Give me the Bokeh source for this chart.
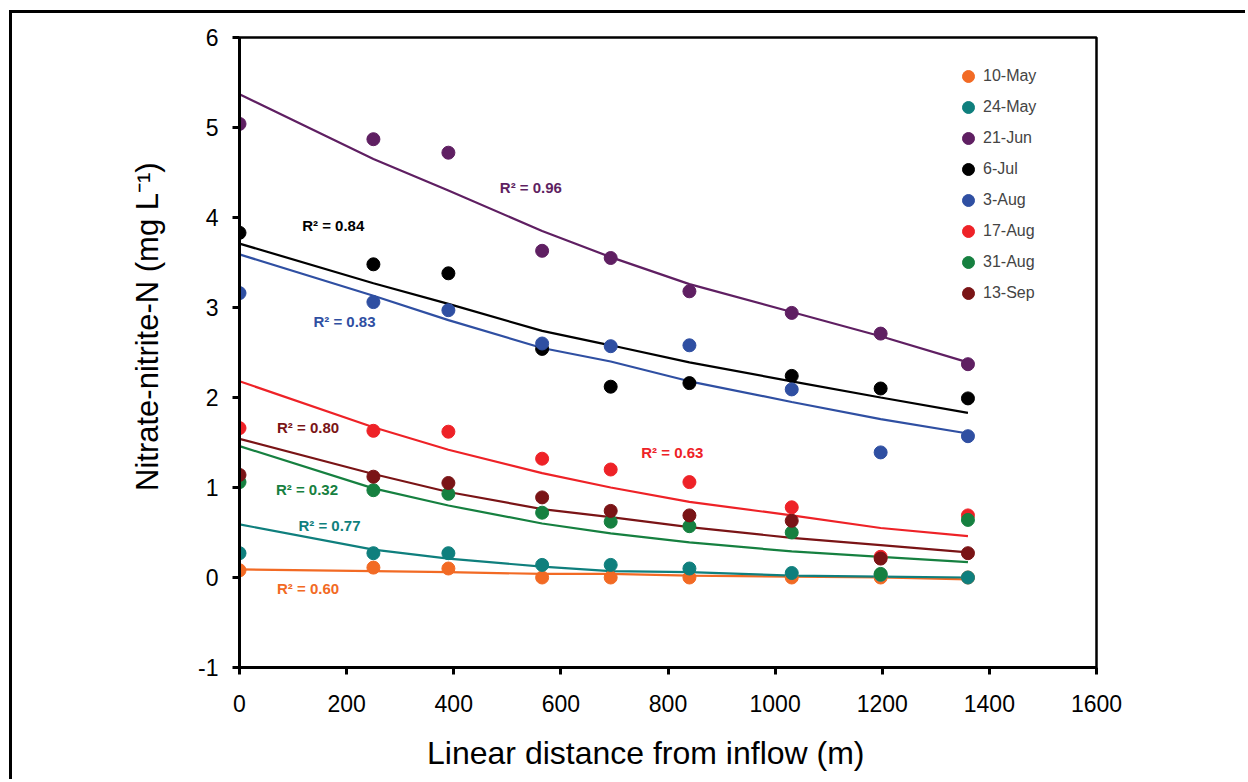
from bokeh.plotting import figure
from bokeh.models import Legend, LegendItem, Label, FixedTicker, Range1d
from bokeh.embed import file_html
from bokeh.resources import INLINE

# ---------------- data ----------------
distance = [0, 250, 390, 565, 693, 840, 1031, 1197, 1360]

series_names = ["10-May", "24-May", "21-Jun", "6-Jul", "3-Aug", "17-Aug", "31-Aug", "13-Sep"]

may10 = [0.08, 0.11, 0.10, 0.00, 0.00, 0.00, 0.00, 0.00, 0.00]
may24 = [0.27, 0.27, 0.27, 0.14, 0.14, 0.10, 0.05, 0.03, 0.00]
jun21 = [5.04, 4.87, 4.72, 3.63, 3.55, 3.18, 2.94, 2.71, 2.37]
jul6 = [3.83, 3.48, 3.38, 2.54, 2.12, 2.16, 2.24, 2.10, 1.99]
aug3 = [3.16, 3.06, 2.97, 2.60, 2.57, 2.58, 2.09, 1.39, 1.57]
aug17 = [1.66, 1.63, 1.62, 1.32, 1.20, 1.06, 0.78, 0.23, 0.69]
aug31 = [1.06, 0.97, 0.93, 0.72, 0.62, 0.57, 0.50, 0.04, 0.64]
sep13 = [1.14, 1.12, 1.05, 0.89, 0.74, 0.69, 0.63, 0.21, 0.27]

# trend lines at the same distances
trend_may10 = [0.09, 0.07, 0.06, 0.04, 0.04, 0.02, 0.01, 0.00, -0.02]
trend_may24 = [0.59, 0.31, 0.21, 0.12, 0.07, 0.06, 0.02, 0.01, 0.00]
trend_jun21 = [5.37, 4.65, 4.30, 3.85, 3.56, 3.26, 2.95, 2.68, 2.39]
trend_jul6 = [3.71, 3.27, 3.04, 2.74, 2.58, 2.39, 2.18, 2.00, 1.83]
trend_aug3 = [3.59, 3.13, 2.86, 2.55, 2.40, 2.18, 1.95, 1.76, 1.60]
trend_aug17 = [2.18, 1.67, 1.42, 1.16, 1.00, 0.84, 0.69, 0.55, 0.46]
trend_aug31 = [1.46, 0.99, 0.80, 0.60, 0.49, 0.39, 0.29, 0.23, 0.17]
trend_sep13 = [1.54, 1.15, 0.95, 0.76, 0.67, 0.56, 0.44, 0.36, 0.28]

r2_labels = ["R² = 0.60", "R² = 0.77", "R² = 0.96", "R² = 0.84",
             "R² = 0.83", "R² = 0.63", "R² = 0.32", "R² = 0.80"]

x_ticks = [0, 200, 400, 600, 800, 1000, 1200, 1400, 1600]
y_ticks = [-1, 0, 1, 2, 3, 4, 5, 6]

# ---------------- styling ----------------
colors = ["#F26A24", "#0F7F7D", "#5F1F62", "#000000", "#2F4FA2", "#EE2227", "#168040", "#7A1416"]
# label anchor positions (data units, left/middle)
r2_pos = [(70, -0.12), (110, 0.58), (486, 4.33), (117, 3.91),
          (138, 2.85), (750, 1.39), (68, 0.975), (70, 1.67)]

FONT = "Liberation Sans"
NB = "\u00a0"

W, H = 1236, 769
p = figure(width=W, height=H, output_backend="svg", toolbar_location=None,
           x_range=Range1d(0, 1600), y_range=Range1d(-1, 6),
           min_border_left=227, min_border_right=152, min_border_top=24, min_border_bottom=115)
p.styles = {"margin-left": "9px", "margin-top": "10px",
            "border-left": "3px solid #000", "border-top": "3px solid #000"}

p.grid.visible = False
p.outline_line_color = "black"
p.outline_line_width = 2.5
p.background_fill_color = "white"
p.border_fill_color = "white"

p.xaxis.ticker = FixedTicker(ticks=x_ticks)
p.yaxis.ticker = FixedTicker(ticks=y_ticks)
p.yaxis.major_label_overrides = {t: str(t) for t in y_ticks}
for ax in (p.xaxis, p.yaxis):
    ax.axis_line_width = 3
    ax.major_tick_line_width = 3
    ax.major_tick_out = 7
    ax.major_tick_in = 0
    ax.minor_tick_line_color = None
    ax.major_label_text_font = FONT
    ax.major_label_text_font_size = "23px"
    ax.major_label_text_color = "black"
    ax.axis_label_text_font = FONT
    ax.axis_label_text_font_style = "normal"
    ax.axis_label_text_color = "black"
p.xaxis.axis_label_text_font_size = "32px"
p.yaxis.axis_label_text_font_size = "31px"
p.xaxis.axis_label = "Linear distance from inflow (m)" + NB * 5
p.yaxis.axis_label = NB * 6 + "Nitrate-nitrite-N (mg L⁻¹)"
p.xaxis.major_label_standoff = 20
p.yaxis.major_label_standoff = 14
p.xaxis.axis_label_standoff = 20
p.yaxis.axis_label_standoff = 30

values = [may10, may24, jun21, jul6, aug3, aug17, aug31, sep13]
trends = [trend_may10, trend_may24, trend_jun21, trend_jul6, trend_aug3,
          trend_aug17, trend_aug31, trend_sep13]

items = []
for name, ys, tr, c in zip(series_names, values, trends, colors):
    p.line(distance, tr, line_color=c, line_width=2.2)
for name, ys, tr, c in zip(series_names, values, trends, colors):
    r = p.scatter(distance, ys, size=13, marker="circle", fill_color=c, line_color=c)
    items.append(LegendItem(label=name, renderers=[r]))

for txt, (lx, ly), c in zip(r2_labels, r2_pos, colors):
    p.add_layout(Label(x=lx, y=ly, text=txt, text_color=c, text_font=FONT,
                       text_font_size="15px", text_font_style="bold",
                       text_baseline="middle", text_align="left"))

legend = Legend(items=items, location=(714, 359))
legend.border_line_color = None
legend.background_fill_alpha = 0
legend.padding = 0
legend.margin = 0
legend.spacing = 1
legend.glyph_width = 30
legend.glyph_height = 30
legend.label_height = 30
legend.label_standoff = -10
legend.label_text_font = FONT
legend.label_text_font_size = "16px"
p.add_layout(legend, "center")

open("out.html", "w").write(file_html(p, INLINE))
